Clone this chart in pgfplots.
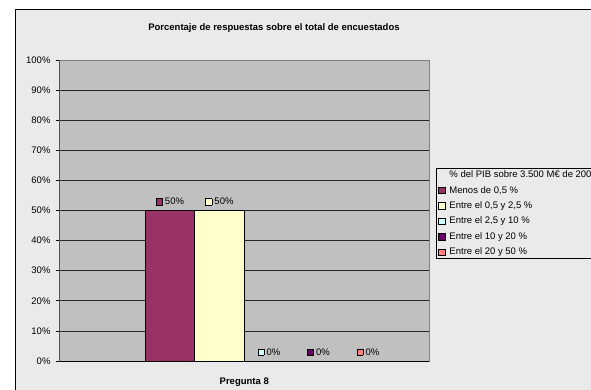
\documentclass[border=0pt]{standalone}
\usepackage{pgfplots}
\pgfplotsset{compat=1.18}
\usepackage{fontspec}
\setmainfont{Liberation Sans}
\definecolor{bgc}{HTML}{EAEAEA}
\definecolor{plotbg}{HTML}{C0C0C0}
\definecolor{cA}{HTML}{993366}
\definecolor{cB}{HTML}{FFFFCC}
\definecolor{cC}{HTML}{CCFFFF}
\definecolor{cD}{HTML}{660066}
\definecolor{cE}{HTML}{FF8080}
\newcommand{\sq}[1]{{\setlength{\fboxsep}{0pt}\setlength{\fboxrule}{0.6pt}\fcolorbox{black}{#1}{\rule{5.5pt}{0pt}\rule{0pt}{5.5pt}}}}
\newcommand{\fs}{\fontsize{9.5}{11}\selectfont}
\pgfplotsset{sqlegend/.style={legend image code/.code={\draw[##1,draw=black,line width=0.6pt] (0pt,-3.2pt) rectangle (6.5pt,3.2pt);}}}
\begin{document}
\begin{tikzpicture}[x=1pt,y=1pt]
\useasboundingbox (0,0) rectangle (591,389);
\fill[white] (0,0) rectangle (591,389);
\begin{scope}
\clip (0,0) rectangle (591,389);
\fill[bgc] (15,-10) rectangle (600,379);
\draw[black, line width=1pt] (15,-10) -- (15,379) -- (600,379);
\node[font=\fs\bfseries] at (274,361.2) {Porcentaje de respuestas sobre el total de encuestados};
\begin{axis}[
  at={(59.5pt,28pt)}, anchor=south west,
  scale only axis, width=369.5pt, height=301pt,
  xmin=0, xmax=1, ymin=0, ymax=100,
  axis background/.style={fill=plotbg},
  axis line style={draw=black!50, line width=0.8pt},
  ytick={0,10,...,100},
  yticklabel={\pgfmathprintnumber{\tick}\%},
  /pgf/number format/assume math mode=true,
  ymajorgrids, grid style={black!85, line width=0.75pt},
  tick align=outside, major tick length=4pt,
  ytick style={black, line width=0.75pt},
  ytick pos=left,
  xtick={0.5}, xticklabels={\textbf{Pregunta 8}},
  xtick style={draw=none},
  xticklabel style={yshift=-9pt},
  tick label style={font=\fs},
  yticklabel style={xshift=-1.5pt},
  nodes near coords style={font=\fs, anchor=center, yshift=9pt},
  every axis legend/.append style={fill=bgc},
  legend style={at={(1.0189,0.6412)}, anchor=north west, draw=black, line width=0.8pt, fill=bgc,
     font=\fs, inner xsep=2pt, inner ysep=1.5pt, row sep=5pt, column sep=2pt,
     nodes={inner xsep=2pt, inner ysep=1pt}},
  legend cell align=left,
]
\addlegendimage{empty legend}
\addlegendentry{\% del PIB sobre 3.500 M€ de 2007}
\addplot[ybar, sqlegend, bar width=0.134, fill=cA, draw=black, line width=0.75pt,
  nodes near coords={\sq{cA}\hspace{2.3pt}\pgfmathprintnumber{\pgfplotspointmeta}\%}]
  coordinates {(0.299,50)};
\addlegendentry{Menos de 0,5 \%}
\addplot[ybar, sqlegend, bar width=0.134, fill=cB, draw=black, line width=0.75pt,
  nodes near coords={\sq{cB}\hspace{2.3pt}\pgfmathprintnumber{\pgfplotspointmeta}\%}]
  coordinates {(0.433,50)};
\addlegendentry{Entre el 0,5 y 2,5 \%}
\addplot[ybar, sqlegend, bar width=0.134, fill=cC, draw=black, line width=0.75pt,
  nodes near coords={\sq{cC}\hspace{2.3pt}\pgfmathprintnumber{\pgfplotspointmeta}\%}]
  coordinates {(0.567,0)};
\addlegendentry{Entre el 2,5 y 10 \%}
\addplot[ybar, sqlegend, bar width=0.134, fill=cD, draw=black, line width=0.75pt,
  nodes near coords={\sq{cD}\hspace{2.3pt}\pgfmathprintnumber{\pgfplotspointmeta}\%}]
  coordinates {(0.701,0)};
\addlegendentry{Entre el 10 y 20 \%}
\addplot[ybar, sqlegend, bar width=0.134, fill=cE, draw=black, line width=0.75pt,
  nodes near coords={\sq{cE}\hspace{2.3pt}\pgfmathprintnumber{\pgfplotspointmeta}\%}]
  coordinates {(0.835,0)};
\addlegendentry{Entre el 20 y 50 \%}
\draw[black, line width=0.8pt] (rel axis cs:0,1) -- (rel axis cs:0,0) -- (rel axis cs:1,0);
\end{axis}
\end{scope}
\end{tikzpicture}
\end{document}
